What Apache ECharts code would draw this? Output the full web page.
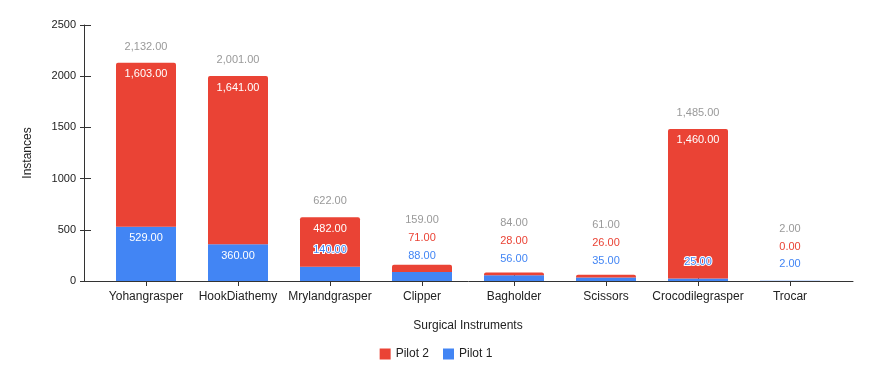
<!DOCTYPE html>
<html>
<head>
<meta charset="utf-8">
<script src="https://cdn.jsdelivr.net/npm/echarts@6/dist/echarts.min.js"></script>
<style>
  html, body { margin: 0; padding: 0; background: #fff; }
  #chart { width: 872px; height: 378px; }
</style>
</head>
<body>
<div id="chart"></div>
<script>
// 器械类别
const categories = ['Yohangrasper', 'HookDiathemy', 'Mrylandgrasper', 'Clipper', 'Bagholder', 'Scissors', 'Crocodilegrasper', 'Trocar']
const pilot1 = [529, 360, 140, 88, 56, 35, 25, 2]
const pilot2 = [1603, 1641, 482, 71, 28, 26, 1460, 0]
const totals = [2132, 2001, 622, 159, 84, 61, 1485, 2]
const yTicks = [0, 500, 1000, 1500, 2000, 2500]

const BLUE = '#4285F4'
const RED = '#EA4335'
const FONT = '"Liberation Sans", Arial, sans-serif'
const yMax = yTicks[yTicks.length - 1]
const plotH = 256 // grid height in px
const pxPer = plotH / yMax
const fmt = new Intl.NumberFormat('en-US', { minimumFractionDigits: 2, maximumFractionDigits: 2 })
const fits = v => v * pxPer >= 20

// label placement: inside the segment when it fits, otherwise stacked above
const blueData = pilot1.map(v => {
  const fit = fits(v)
  return {
    value: v,
    label: fit
      ? { position: 'insideTop', distance: 6, color: '#fff' }
      : { position: 'top', distance: 11, color: BLUE, textBorderColor: '#fff', textBorderWidth: 2 }
  }
})
const redData = pilot2.map((v, i) => {
  const fit = fits(v)
  const blueFit = fits(pilot1[i])
  return {
    value: v,
    label: fit
      ? { position: 'insideTop', distance: 6, color: '#fff' }
      : { position: 'top', distance: 11, color: RED, offset: [0, blueFit ? 0 : v * pxPer - 17.5] }
  }
})
const totalData = totals.map((v, i) => {
  const stacked = !fits(pilot2[i]) && !fits(pilot1[i])
  return {
    value: v,
    label: { offset: [0, stacked ? pilot2[i] * pxPer - 36 : 0] }
  }
})

let myChart = echarts.init(document.getElementById('chart'))
myChart.setOption({
  animation: false,
  textStyle: { fontFamily: FONT },
  grid: [
    { left: 84, right: 19, top: 25, bottom: 97 },
    { left: 100, right: 36, top: 25, bottom: 97 }
  ],
  legend: {
    data: ['Pilot 2', 'Pilot 1'],
    left: 'center',
    top: 343,
    icon: 'rect',
    itemWidth: 11,
    itemHeight: 11,
    itemGap: 14,
    textStyle: { fontSize: 12, color: '#222', fontFamily: FONT }
  },
  xAxis: [
    {
      // 轴线框
      type: 'value', gridIndex: 0, min: 0, max: 1,
      axisLine: { show: true, lineStyle: { color: '#333' } },
      axisTick: { show: false }, axisLabel: { show: false }, splitLine: { show: false }
    },
    {
      type: 'category', gridIndex: 1, data: categories, position: 'bottom',
      axisLine: { show: false },
      axisTick: { show: true, alignWithLabel: true, length: 5, lineStyle: { color: '#333' } },
      axisLabel: { fontSize: 12, color: '#222', margin: 10, interval: 0, fontFamily: FONT },
      name: 'Surgical Instruments',
      nameLocation: 'middle',
      nameGap: 39,
      nameTextStyle: { fontSize: 12, color: '#222', fontFamily: FONT }
    },
    {
      type: 'category', gridIndex: 1, data: categories, position: 'bottom',
      axisLine: { show: false },
      axisTick: { show: true, alignWithLabel: true, inside: true, length: 6, lineStyle: { color: '#333' } },
      axisLabel: { show: false }
    }
  ],
  yAxis: [
    {
      type: 'value', gridIndex: 0, min: 0, max: yMax, interval: 500, position: 'left',
      axisLine: { show: true, lineStyle: { color: '#333' } },
      axisTick: { show: true, length: 4, lineStyle: { color: '#333' } },
      axisLabel: { fontSize: 11, color: '#222', margin: 8, fontFamily: FONT, formatter: v => String(v) },
      splitLine: { show: false },
      name: 'Instances',
      nameLocation: 'middle',
      nameGap: 50,
      nameTextStyle: { fontSize: 12, color: '#222', fontFamily: FONT }
    },
    {
      type: 'value', gridIndex: 0, min: 0, max: yMax, interval: 500, position: 'left',
      axisLine: { show: false },
      axisTick: { show: true, inside: true, length: 7, lineStyle: { color: '#333' } },
      axisLabel: { show: false }, splitLine: { show: false }
    },
    {
      type: 'value', gridIndex: 1, min: 0, max: yMax,
      show: false
    }
  ],
  series: [
    {
      name: 'Pilot 1',
      type: 'bar',
      stack: 'total',
      xAxisIndex: 1,
      yAxisIndex: 2,
      barWidth: 60,
      itemStyle: { color: BLUE },
      label: { show: true, fontSize: 11, fontFamily: FONT, formatter: p => fmt.format(p.value) },
      data: blueData
    },
    {
      name: 'Pilot 2',
      type: 'bar',
      stack: 'total',
      xAxisIndex: 1,
      yAxisIndex: 2,
      barWidth: 60,
      itemStyle: { color: RED, borderRadius: [2, 2, 0, 0] },
      label: { show: true, fontSize: 11, fontFamily: FONT, formatter: p => fmt.format(p.value) },
      data: redData
    },
    {
      name: 'Total',
      type: 'scatter',
      xAxisIndex: 1,
      yAxisIndex: 2,
      symbolSize: 0,
      silent: true,
      label: {
        show: true, position: 'top', distance: 10.5, fontSize: 11, color: '#808080',
        fontFamily: FONT, formatter: p => fmt.format(p.value)
      },
      data: totalData
    }
  ]
})
</script>
</body>
</html>
